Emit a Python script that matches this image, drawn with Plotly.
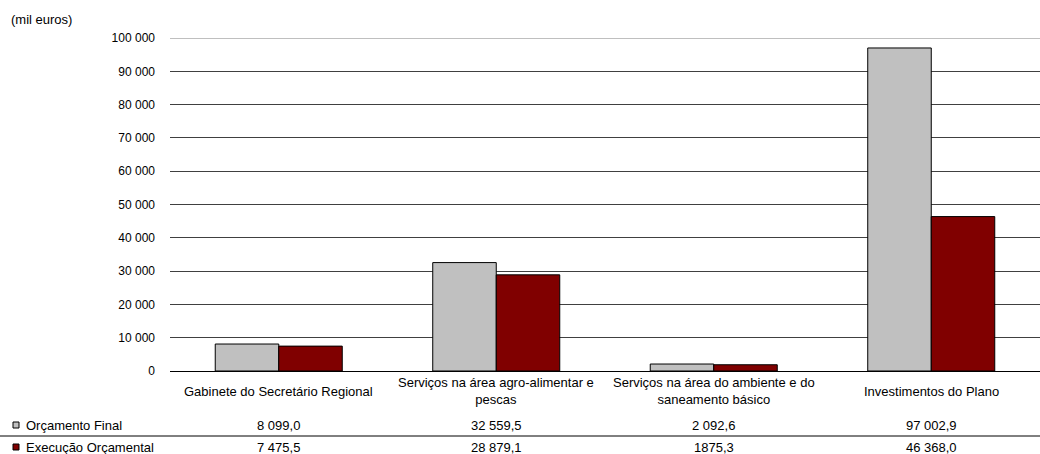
import plotly.graph_objects as go

# Categories and values (thousand euros), as printed in the data table
categorias = [
    "Gabinete do Secretário Regional",
    "Serviços na área agro-alimentar e<br>pescas",
    "Serviços na área do ambiente e do<br>saneamento básico",
    "Investimentos do Plano",
]
orcamento_txt = ["8 099,0", "32 559,5", "2 092,6", "97 002,9"]
execucao_txt = ["7 475,5", "28 879,1", "1875,3", "46 368,0"]
serie_nomes = ["Orçamento Final", "Execução Orçamental"]
y_ticks = [0, 10000, 20000, 30000, 40000, 50000, 60000, 70000, 80000, 90000, 100000]


def to_num(s):
    return float(s.replace(" ", "").replace(",", "."))


orcamento = [to_num(s) for s in orcamento_txt]
execucao = [to_num(s) for s in execucao_txt]

W, H = 1040, 454
L, R, T, B = 170, 0, 38, 83
PW, PH = W - L - R, H - T - B
FONT = "Liberation Sans, Arial, sans-serif"
FS = 13


def px(x):
    return (x - L) / PW


def py(y):
    return (H - B - y) / PH


cores = ["#C0C0C0", "#800000"]
keys = list(range(len(categorias)))

fig = go.Figure()
for nome, vals, cor in zip(serie_nomes, [orcamento, execucao], cores):
    fig.add_trace(go.Bar(
        x=keys, y=vals, name=nome,
        marker=dict(color=cor, line=dict(color="#000000", width=1)),
        showlegend=False,
    ))

shapes = []
annotations = []

# lighter top gridline
shapes.append(dict(type="line", xref="paper", yref="paper", x0=0, x1=1,
                   y0=py(38.5), y1=py(38.5), line=dict(color="#BFBFBF", width=1),
                   layer="above"))

# category labels, centred in a two-line band under the axis
for k, cat in enumerate(categorias):
    annotations.append(dict(x=k, y=py(391), xref="x", yref="paper", text=cat,
                            showarrow=False, xanchor="center", yanchor="middle",
                            font=dict(size=FS, color="#000000", family=FONT)))

# data table rows
row_y = [425, 447]
for r, (nome, txts, cor) in enumerate(zip(serie_nomes, [orcamento_txt, execucao_txt], cores)):
    yc = row_y[r]
    shapes.append(dict(type="rect", xref="paper", yref="paper",
                       x0=px(13), x1=px(19), y0=py(yc - 3), y1=py(yc + 3),
                       fillcolor=cor, line=dict(color="#000000", width=1)))
    annotations.append(dict(x=px(24), y=py(yc), xref="paper", yref="paper",
                            text=nome, showarrow=False, xanchor="left",
                            yanchor="middle",
                            font=dict(size=FS, color="#000000", family=FONT)))
    for k, t in enumerate(txts):
        annotations.append(dict(x=k, y=py(yc), xref="x", yref="paper", text=t,
                                showarrow=False, xanchor="center",
                                yanchor="middle",
                                font=dict(size=FS, color="#000000", family=FONT)))

# separator between table rows
shapes.append(dict(type="line", xref="paper", yref="paper", x0=px(0), x1=1,
                   y0=py(436), y1=py(436), line=dict(color="#000000", width=1)))

annotations.append(dict(x=px(9), y=py(19), xref="paper", yref="paper",
                        text="(mil euros)", showarrow=False, xanchor="left",
                        yanchor="middle",
                        font=dict(size=FS, color="#000000", family=FONT)))

fig.update_layout(
    width=W, height=H,
    margin=dict(l=L, r=R, t=T, b=B, autoexpand=False),
    paper_bgcolor="white", plot_bgcolor="white",
    barmode="group", bargap=0.416, bargroupgap=0,
    separators=", ",
    font=dict(family=FONT, size=12, color="#000000"),
    xaxis=dict(range=[-0.5, len(categorias) - 0.5], showticklabels=False,
               showgrid=False, showline=True, linecolor="#000000",
               linewidth=1, ticks="", zeroline=False, fixedrange=True),
    yaxis=dict(range=[0, 100000], tickvals=y_ticks, tickformat=",d",
               showgrid=True, gridcolor="#404040", gridwidth=1,
               zeroline=False, showline=False, ticks="",
               ticklabelstandoff=14, fixedrange=True,
               tickfont=dict(size=12, family=FONT, color="#000000")),
    shapes=shapes,
    annotations=annotations,
)

fig.write_html("out.html")
